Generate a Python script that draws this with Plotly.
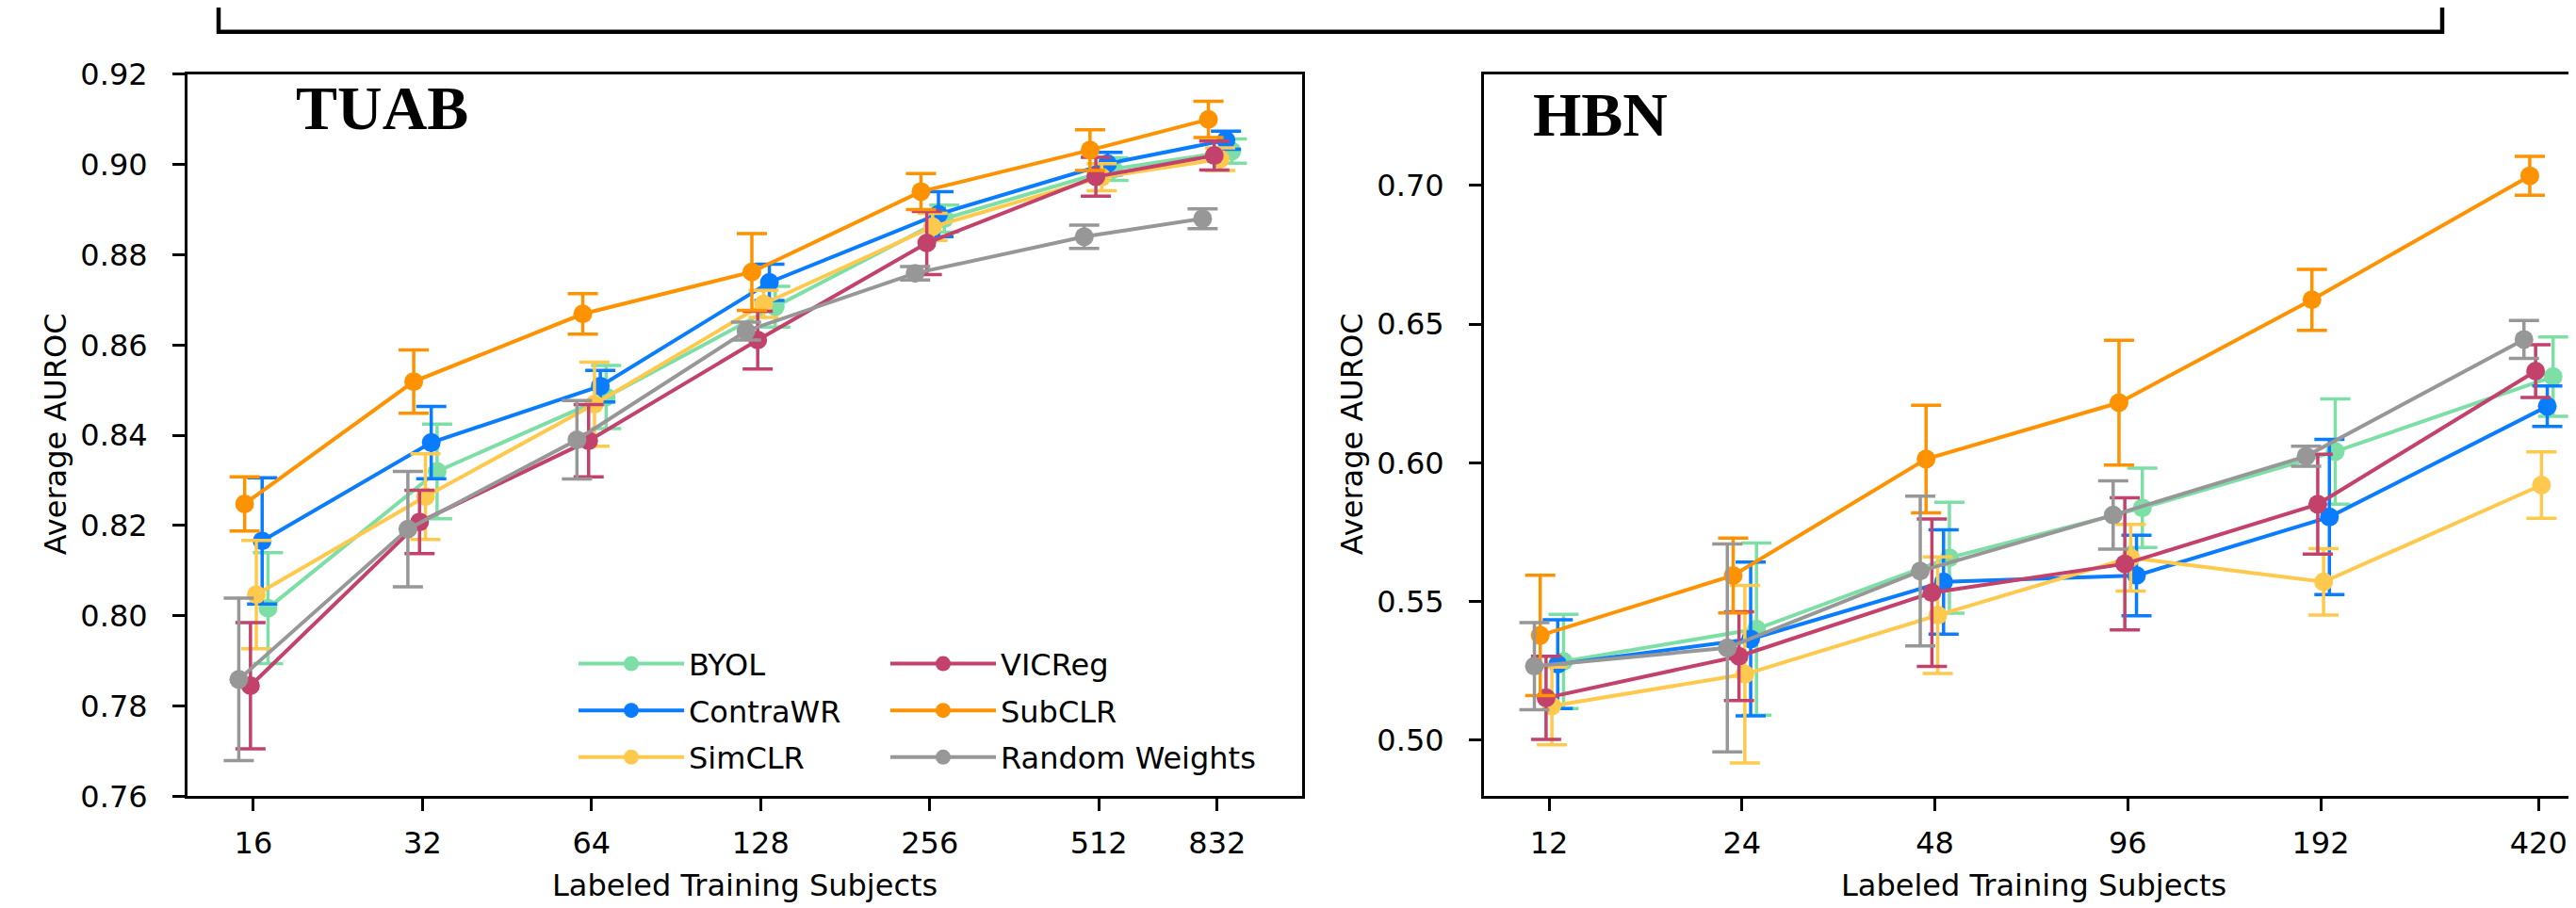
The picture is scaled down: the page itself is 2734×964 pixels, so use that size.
import plotly.graph_objects as go

W, H = 2734, 964

series_names = ["BYOL", "ContraWR", "SimCLR", "VICReg", "SubCLR", "Random Weights"]
series_colors = ["#7DDFA6", "#0A7CFF", "#FFC94D", "#C2426B", "#FF9200", "#979797"]

# TUAB panel
tuab_subjects = [16, 32, 64, 128, 256, 512, 832]
tuab_byol = [0.8017, 0.8320, 0.8485, 0.8685, 0.8880, 0.8990, 0.9030]
tuab_byol_err = [0.0123, 0.0105, 0.0070, 0.0045, 0.0030, 0.0025, 0.0027]
tuab_contrawr = [0.8166, 0.8384, 0.8509, 0.8739, 0.8890, 0.9002, 0.9054]
tuab_contrawr_err = [0.0140, 0.0080, 0.0035, 0.0040, 0.0050, 0.0025, 0.0020]
tuab_simclr = [0.8047, 0.8264, 0.8469, 0.8691, 0.8862, 0.8972, 0.9012]
tuab_simclr_err = [0.0120, 0.0095, 0.0093, 0.0030, 0.0030, 0.0030, 0.0025]
tuab_vicreg = [0.7845, 0.8208, 0.8388, 0.8611, 0.8826, 0.8973, 0.9020]
tuab_vicreg_err = [0.0140, 0.0070, 0.0080, 0.0064, 0.0070, 0.0043, 0.0032]
tuab_subclr = [0.8248, 0.8519, 0.8669, 0.8762, 0.8940, 0.9032, 0.9100]
tuab_subclr_err = [0.0060, 0.0070, 0.0045, 0.0085, 0.0040, 0.0045, 0.0040]
tuab_random = [0.7859, 0.8192, 0.8390, 0.8631, 0.8759, 0.8840, 0.8880]
tuab_random_err = [0.0180, 0.0128, 0.0087, 0.0020, 0.0015, 0.0026, 0.0022]

# HBN panel
hbn_subjects = [12, 24, 48, 96, 192, 420]
hbn_byol = [0.5284, 0.5401, 0.5658, 0.5838, 0.6041, 0.6311]
hbn_byol_err = [0.0170, 0.0310, 0.0200, 0.0143, 0.0190, 0.0143]
hbn_contrawr = [0.5274, 0.5365, 0.5571, 0.5594, 0.5805, 0.6204]
hbn_contrawr_err = [0.0160, 0.0277, 0.0188, 0.0145, 0.0280, 0.0073]
hbn_simclr = [0.5124, 0.5238, 0.5451, 0.5658, 0.5571, 0.5920]
hbn_simclr_err = [0.0140, 0.0320, 0.0210, 0.0120, 0.0120, 0.0120]
hbn_vicreg = [0.5153, 0.5303, 0.5532, 0.5636, 0.5851, 0.6331]
hbn_vicreg_err = [0.0150, 0.0160, 0.0266, 0.0238, 0.0180, 0.0095]
hbn_subclr = [0.5378, 0.5594, 0.6014, 0.6217, 0.6588, 0.7035]
hbn_subclr_err = [0.0217, 0.0135, 0.0194, 0.0225, 0.0110, 0.0070]
hbn_random = [0.5267, 0.5333, 0.5610, 0.5812, 0.6024, 0.6445]
hbn_random_err = [0.0157, 0.0375, 0.0270, 0.0123, 0.0036, 0.0068]

tuab_vals = [tuab_byol, tuab_contrawr, tuab_simclr, tuab_vicreg, tuab_subclr, tuab_random]
tuab_errs = [tuab_byol_err, tuab_contrawr_err, tuab_simclr_err, tuab_vicreg_err, tuab_subclr_err, tuab_random_err]
hbn_vals = [hbn_byol, hbn_contrawr, hbn_simclr, hbn_vicreg, hbn_subclr, hbn_random]
hbn_errs = [hbn_byol_err, hbn_contrawr_err, hbn_simclr_err, hbn_vicreg_err, hbn_subclr_err, hbn_random_err]

tuab_yticks = [0.76, 0.78, 0.80, 0.82, 0.84, 0.86, 0.88, 0.90, 0.92]
hbn_yticks = [0.50, 0.55, 0.60, 0.65, 0.70]

FONT = "DejaVu Sans"
FS = 32

def px(xp):
    return xp / W

def py(yp):
    return 1 - yp / H

# small horizontal dodge (in log10 units) so overlapping error bars stay visible
dodge_offsets = [2.5, 1.5, 0.5, -0.5, -1.5, -2.5]
tuab_step = 0.0104
hbn_step = 0.0091

fig = go.Figure()

for i, name in enumerate(series_names):
    f = 10 ** (dodge_offsets[i] * tuab_step)
    fig.add_trace(go.Scatter(
        x=[s * f for s in tuab_subjects], y=tuab_vals[i],
        error_y=dict(type="data", array=tuab_errs[i], visible=True,
                     color=series_colors[i], thickness=3.5, width=16),
        mode="lines+markers", name=name,
        line=dict(color=series_colors[i], width=4),
        marker=dict(color=series_colors[i], size=20),
        xaxis="x", yaxis="y",
        legend="legend" if i < 3 else "legend2",
        legendgroup=name,
    ))

for i, name in enumerate(series_names):
    f = 10 ** (dodge_offsets[i] * hbn_step)
    fig.add_trace(go.Scatter(
        x=[s * f for s in hbn_subjects], y=hbn_vals[i],
        error_y=dict(type="data", array=hbn_errs[i], visible=True,
                     color=series_colors[i], thickness=3.5, width=16),
        mode="lines+markers", name=name,
        line=dict(color=series_colors[i], width=4),
        marker=dict(color=series_colors[i], size=20),
        xaxis="x2", yaxis="y2", showlegend=False,
        legendgroup=name,
    ))

axis_common = dict(
    showline=True, linecolor="black", linewidth=3,
    ticks="outside", ticklen=13, tickwidth=3, tickcolor="black",
    showgrid=False, zeroline=False,
    tickfont=dict(family=FONT, size=FS, color="black"),
)

ydom = [py(852), py(54)]

legend_common = dict(yanchor="top", xanchor="left", bgcolor="rgba(0,0,0,0)",
                     itemwidth=112, tracegroupgap=5,
                     font=dict(family=FONT, size=FS, color="black"))

fig.update_layout(
    width=W, height=H,
    margin=dict(l=0, r=0, t=0, b=0),
    paper_bgcolor="white", plot_bgcolor="white",
    font=dict(family=FONT, size=FS, color="black"),
    xaxis=dict(domain=[px(191), px(1374)], type="log",
               range=[1.08679, 3.07132],
               tickvals=tuab_subjects, ticktext=[str(s) for s in tuab_subjects],
               mirror=True, anchor="y", ticklabelstandoff=6, **axis_common),
    yaxis=dict(domain=ydom, range=[0.76, 0.92], tickvals=tuab_yticks,
               tickformat=".2f", mirror=True, anchor="x", ticklabelstandoff=20,
               **axis_common),
    xaxis2=dict(domain=[px(1567), 1.0], type="log",
                range=[0.97774, 2.69347],
                tickvals=hbn_subjects, ticktext=[str(s) for s in hbn_subjects],
                mirror=True, anchor="y2", ticklabelstandoff=6, **axis_common),
    yaxis2=dict(domain=ydom, range=[0.4798, 0.7401], tickvals=hbn_yticks,
                tickformat=".2f", mirror=False, anchor="x2", ticklabelstandoff=20,
                **axis_common),
    legend=dict(x=px(601), y=py(677), **legend_common),
    legend2=dict(x=px(932), y=py(677), **legend_common),
    showlegend=True,
)

annotations = [
    dict(text="<b>TUAB</b>", x=px(397), y=py(91), xref="paper", yref="paper",
         showarrow=False, xanchor="center", yanchor="middle",
         font=dict(family="Liberation Serif", size=66, color="black")),
    dict(text="<b>HBN</b>", x=px(1690), y=py(98), xref="paper", yref="paper",
         showarrow=False, xanchor="center", yanchor="middle",
         font=dict(family="Liberation Serif", size=66, color="black")),
    dict(text="Labeled Training Subjects", x=px(782), y=py(950), xref="paper", yref="paper",
         showarrow=False, xanchor="center", yanchor="middle",
         font=dict(family=FONT, size=FS, color="black")),
    dict(text="Labeled Training Subjects", x=px(2150), y=py(950), xref="paper", yref="paper",
         showarrow=False, xanchor="center", yanchor="middle",
         font=dict(family=FONT, size=FS, color="black")),
    dict(text="Average AUROC", x=px(51), y=py(452), xref="paper", yref="paper",
         showarrow=False, xanchor="center", yanchor="middle", textangle=-90,
         font=dict(family=FONT, size=FS, color="black")),
    dict(text="Average AUROC", x=px(1427), y=py(452), xref="paper", yref="paper",
         showarrow=False, xanchor="center", yanchor="middle", textangle=-90,
         font=dict(family=FONT, size=FS, color="black")),
]
fig.update_layout(annotations=annotations)

# partially visible frame at the very top of the figure
fig.add_shape(type="rect", xref="paper", yref="paper",
              x0=px(224), x1=px(2584), y0=py(7), y1=py(-60),
              line=dict(color="black", width=4.5), fillcolor="rgba(0,0,0,0)")

fig.write_html("out.html")
